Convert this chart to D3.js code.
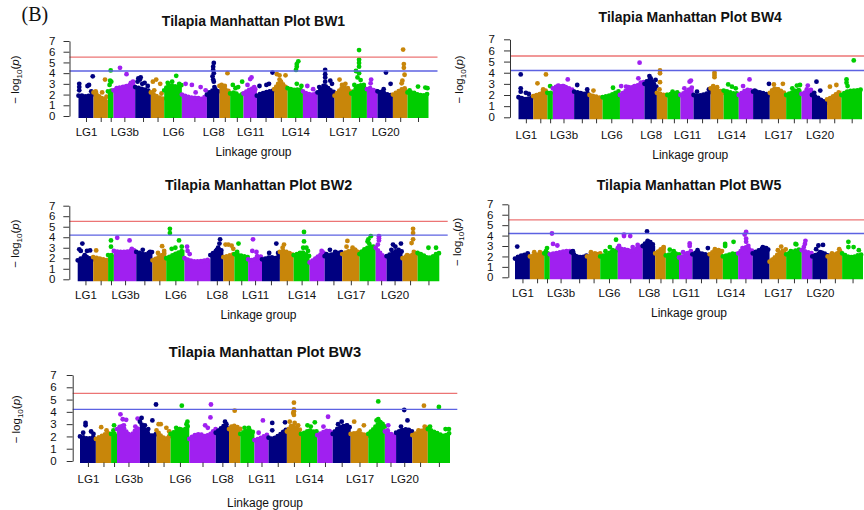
<!DOCTYPE html>
<html>
<head>
<meta charset="utf-8">
<script src="https://cdn.jsdelivr.net/npm/d3@7"></script>
<style>
  body { margin: 0; background: #fff; }
  svg { display: block; }
  text { font-family: "Liberation Sans", Arial, Helvetica, sans-serif; fill: #111; }
</style>
</head>
<body>
<svg id="fig" width="864" height="510"></svg>
<script>
// Tilapia linkage groups and their relative lengths (Mb)
const lgNames = ["LG1","LG2","LG3a","LG3b","LG4","LG5","LG6","LG7","LG8","LG9","LG10","LG11",
                 "LG12","LG13","LG14","LG15","LG16","LG17","LG18","LG19","LG20","LG22","LG23"];
const lgSizes = [33.0, 31.7, 12.3, 47.7, 34.5, 29.3, 38.9, 55.0, 27.7, 23.5, 29.3, 29.5,
                 38.1, 29.3, 33.9, 32.1, 37.4, 36.7, 34.5, 23.3, 33.9, 32.1, 46.2];
// labels that fit under the axis
const shownLabels = ["LG1","LG3b","LG6","LG8","LG11","LG14","LG17","LG20"];
const lgColors = ["#000080", "#c8860a", "#00cd00", "#a020f0"];
const yTicks = [0, 1, 2, 3, 4, 5, 6, 7];
const genomeWideLine = 5.5;
const suggestiveLine = 4.2;

// Upper edge of the dense SNP cloud per linkage group, -log10(p), evenly spaced along the LG
const bw1Bulk = [
  [1.9,1.9,1.8,1.9,2.0],[2.2,2.0,1.7,1.6,1.5],[2.3,2.4],[2.4,2.6,2.7,2.8,2.9,3.0],
  [2.7,2.6,2.5,2.4,2.3],[2.2,1.9,1.7,1.6],[2.4,2.9,2.8,2.7,2.9],[2.0,1.8,1.7,1.7,1.6,1.9],
  [2.0,2.3,2.5,2.2],[2.8,2.6,2.4,2.3],[2.1,2.2,1.9,2.1],[2.1,2.3,2.5,2.6,2.4],
  [1.9,2.1,2.2,2.3,2.4],[2.5,2.9,3.2,2.8,2.6],[2.6,2.5,2.4,2.5,2.3],[2.3,2.1,2.0,2.0,2.2],
  [2.2,2.5,2.8,2.4,2.2],[1.9,2.3,2.7,2.5,2.2],[2.1,2.4,2.9,2.8,2.4],[2.5,2.5,2.4,2.3],
  [2.3,2.2,2.0,1.9],[2.0,2.2,2.4,2.6,2.5],[2.2,2.2,2.0,1.9,2.1]
];
// Individual SNPs standing above the cloud: [LG, relative position, -log10(p)]
const bw1Peaks = [
  ["LG1",0.05,3.0],["LG1",0.05,2.7],["LG1",0.05,2.4],["LG1",0.6,2.8],["LG1",0.7,2.9],["LG1",0.85,2.3],["LG1",0.95,3.7],
  ["LG2",0.15,2.3],["LG2",0.6,2.2],["LG2",0.8,3.4],["LG2",0.9,1.8],
  ["LG3a",0.5,4.25],["LG3a",0.4,3.3],["LG3a",0.6,3.2],["LG3a",0.3,2.9],
  ["LG3b",0.3,4.5],["LG3b",0.6,3.9],["LG3b",0.8,3.1],["LG3b",0.9,3.2],["LG3b",0.15,2.6],
  ["LG4",0.15,3.2],["LG4",0.2,3.5],["LG4",0.3,3.4],["LG4",0.35,3.6],["LG4",0.45,3.0],["LG4",0.6,3.1],["LG4",0.8,2.8],
  ["LG5",0.15,3.2],["LG5",0.4,3.4],["LG5",0.25,2.4],["LG5",0.7,3.0],["LG5",0.8,2.1],
  ["LG6",0.68,3.75],["LG6",0.2,3.1],["LG6",0.45,3.2],["LG6",0.85,3.0],
  ["LG7",0.15,3.0],["LG7",0.4,2.9],["LG7",0.55,2.2],["LG7",0.75,2.7],["LG7",0.95,2.4],
  ["LG8",0.55,4.95],["LG8",0.5,4.6],["LG8",0.5,4.3],["LG8",0.55,4.0],["LG8",0.45,3.7],["LG8",0.5,3.4],["LG8",0.55,3.2],["LG8",0.6,2.7],
  ["LG9",0.75,4.0],["LG9",0.2,2.9],["LG9",0.5,2.8],
  ["LG10",0.2,2.9],["LG10",0.4,2.6],["LG10",0.6,2.7],["LG10",0.9,3.2],
  ["LG11",0.5,3.45],["LG11",0.6,3.6],["LG11",0.3,2.9],["LG11",0.8,2.7],
  ["LG12",0.15,2.8],["LG12",0.55,2.9],["LG12",0.7,3.0],["LG12",0.9,4.05],
  ["LG13",0.2,3.9],["LG13",0.4,3.8],["LG13",0.85,3.8],["LG13",0.4,3.4],["LG13",0.5,3.2],["LG13",0.3,3.0],
  ["LG14",0.7,5.1],["LG14",0.6,4.85],["LG14",0.6,4.6],["LG14",0.55,4.3],["LG14",0.6,3.0],["LG14",0.9,2.8],
  ["LG15",0.3,2.8],["LG15",0.7,2.5],
  ["LG16",0.45,4.3],["LG16",0.45,3.9],["LG16",0.45,3.6],["LG16",0.45,3.2],["LG16",0.35,2.8],["LG16",0.1,2.7],["LG16",0.75,3.3],["LG16",0.85,3.0],
  ["LG17",0.3,3.4],["LG17",0.45,2.9],["LG17",0.65,3.0],["LG17",0.8,2.6],
  ["LG18",0.5,6.15],["LG18",0.5,5.25],["LG18",0.5,4.95],["LG18",0.5,4.6],["LG18",0.3,4.2],["LG18",0.5,4.0],["LG18",0.4,3.6],["LG18",0.6,3.35],["LG18",0.2,2.9],["LG18",0.8,2.9],["LG18",0.3,2.6],
  ["LG19",0.4,3.4],["LG19",0.35,3.05],["LG19",0.3,2.6],
  ["LG20",0.55,4.05],["LG20",0.85,3.0],["LG20",0.4,2.5],
  ["LG22",0.7,6.2],["LG22",0.75,4.85],["LG22",0.75,4.5],["LG22",0.8,3.85],["LG22",0.65,3.3],["LG22",0.6,3.05],
  ["LG23",0.1,2.4],["LG23",0.5,2.75],["LG23",0.85,2.65],["LG23",0.95,2.6]
];

const bw4Bulk = [
  [1.8,1.7,1.6,1.7,1.8],[1.9,2.0,2.1,2.3,2.5],[2.2,2.2],[2.6,2.8,2.8,2.6,2.4],
  [2.3,2.2,2.1,2.2],[2.0,1.9,1.8,1.7],[1.8,1.9,2.0,2.2,2.4],[2.0,2.3,2.6,2.8,2.9,3.2],
  [3.0,3.3,3.4,3.0,2.7],[2.2,2.1,2.0,2.0],[2.0,2.1,2.2,2.3],[2.0,2.2,2.5,2.8],
  [2.0,1.9,2.0,2.1,2.3],[2.6,2.5,2.4,2.2],[2.4,2.3,2.2,2.1,2.2],[2.0,2.3,2.5,2.3],
  [2.3,2.3,2.2,2.1,2.0],[2.2,2.6,2.5,2.3,2.1],[2.0,2.2,2.4,2.5],[2.1,2.3,2.5],
  [2.0,1.8,1.5,1.3],[1.6,1.8,2.1,2.4],[2.0,2.3,2.4,2.4,2.5]
];
const bw4Peaks = [
  ["LG1",0.15,3.85],["LG1",0.15,2.6],["LG1",0.15,2.3],["LG1",0.5,2.2],["LG1",0.7,2.1],
  ["LG2",0.3,3.05],["LG2",0.9,3.85],["LG2",0.7,2.5],
  ["LG3a",0.5,2.8],
  ["LG3b",0.7,3.4],["LG3b",0.25,2.85],["LG3b",0.5,2.8],
  ["LG4",0.2,2.9],["LG4",0.85,2.5],
  ["LG5",0.3,2.4],
  ["LG6",0.6,2.65],
  ["LG7",0.05,2.8],["LG7",0.25,2.75],["LG7",0.35,2.7],["LG7",0.5,2.65],["LG7",0.8,4.9],["LG7",0.75,3.5],["LG7",0.85,3.1],
  ["LG8",0.4,3.7],["LG8",0.5,3.5],["LG8",0.9,3.35],
  ["LG9",0.3,4.2],["LG9",0.3,3.95],["LG9",0.3,3.15],["LG9",0.25,2.5],
  ["LG10",0.4,2.3],
  ["LG11",0.8,3.3],["LG11",0.7,3.2],["LG11",0.3,2.6],
  ["LG12",0.2,2.3],["LG12",0.9,2.5],
  ["LG13",0.3,4.0],["LG13",0.3,3.8],["LG13",0.3,3.6],["LG13",0.2,2.8],["LG13",0.5,2.7],
  ["LG14",0.3,2.95],["LG14",0.55,2.75],["LG14",0.8,2.6],
  ["LG15",0.75,3.4],["LG15",0.3,2.8],
  ["LG16",0.1,2.4],["LG16",0.95,3.0],
  ["LG17",0.25,2.95],["LG17",0.8,3.0],["LG17",0.5,2.5],
  ["LG18",0.4,2.6],["LG18",0.7,2.85],["LG18",0.9,2.9],
  ["LG19",0.6,2.85],["LG19",0.5,2.5],
  ["LG20",0.3,3.2],["LG20",0.55,2.4],["LG20",0.15,2.2],
  ["LG22",0.2,2.75],["LG22",0.65,2.9],
  ["LG23",0.6,5.1],["LG23",0.25,3.4],["LG23",0.25,3.1],["LG23",0.3,2.8]
];

const bw2Bulk = [
  [1.8,2.0,2.2,2.0,1.9],[2.1,2.0,1.9,1.8],[2.3,2.3],[2.7,2.6,2.6,2.7,2.8],
  [2.6,2.5,2.3,2.5,2.6],[1.8,2.0,2.3,2.6],[2.0,2.2,2.4,2.6,2.8],[2.0,1.8,1.7,1.7,1.8,1.9],
  [2.3,2.6,2.9,2.6],[2.1,2.2,2.3,2.4],[2.4,2.3,2.2,2.1],[1.9,1.8,2.0,2.2],
  [1.9,2.0,2.1,2.0,2.2],[2.6,2.7,2.5,2.3],[2.3,2.4,2.6,2.4,2.2],[1.6,1.9,2.3,2.6],
  [2.2,2.3,2.4,2.5,2.6],[2.4,2.6,2.7,2.8,2.5],[2.4,2.8,3.0,3.2,3.0],[3.0,2.6,2.2,2.0],
  [2.2,2.4,2.6,2.8,2.6],[2.0,2.2,2.3,2.4],[2.5,2.3,2.0,2.2,2.5]
];
const bw2Peaks = [
  ["LG1",0.3,3.4],["LG1",0.1,2.85],["LG1",0.2,2.7],["LG1",0.6,2.7],["LG1",0.8,2.75],["LG1",0.45,2.3],
  ["LG2",0.2,2.75],
  ["LG3a",0.5,3.7],["LG3a",0.5,3.1],
  ["LG3b",0.15,3.95],["LG3b",0.7,3.7],["LG3b",0.8,2.9],
  ["LG4",0.4,2.8],["LG4",0.85,2.6],
  ["LG5",0.7,3.15],["LG5",0.4,2.5],["LG5",0.85,2.7],
  ["LG6",0.2,4.8],["LG6",0.2,4.4],["LG6",0.3,2.9],["LG6",0.7,3.7],["LG6",0.85,3.1],["LG6",0.5,3.0],
  ["LG7",0.1,3.1],["LG7",0.12,2.7],["LG7",0.2,2.4],
  ["LG8",0.75,3.8],["LG8",0.7,3.4],["LG8",0.6,3.0],["LG8",0.5,2.8],
  ["LG9",0.2,3.3],["LG9",0.45,3.3],["LG9",0.75,3.2],["LG9",0.9,2.9],
  ["LG10",0.3,3.4],["LG10",0.2,2.6],
  ["LG11",0.35,3.8],["LG11",0.3,2.7],["LG11",0.6,2.6],["LG11",0.85,2.1],["LG11",0.65,2.2],
  ["LG12",0.8,3.4],["LG12",0.9,2.5],["LG12",0.4,2.5],
  ["LG13",0.3,3.3],["LG13",0.2,3.0],
  ["LG14",0.65,4.5],["LG14",0.65,3.6],["LG14",0.6,3.0],["LG14",0.8,3.0],["LG14",0.9,2.7],
  ["LG15",0.8,2.7],
  ["LG16",0.3,2.8],["LG16",0.1,2.4],["LG16",0.6,2.6],
  ["LG17",0.3,3.65],["LG17",0.25,3.1],["LG17",0.6,3.0],["LG17",0.75,2.8],
  ["LG18",0.7,4.1],["LG18",0.5,3.6],["LG18",0.55,3.8],["LG18",0.6,3.4],
  ["LG19",0.3,4.1],["LG19",0.3,3.9],["LG19",0.3,3.7],["LG19",0.2,3.3],
  ["LG20",0.4,3.3],["LG20",0.55,3.1],["LG20",0.9,3.4],["LG20",0.3,2.8],
  ["LG22",0.7,4.8],["LG22",0.7,4.4],["LG22",0.7,3.8],["LG22",0.6,3.45],["LG22",0.75,2.6],["LG22",0.3,2.3],
  ["LG23",0.5,3.0],["LG23",0.85,3.0],["LG23",0.85,2.4]
];

const bw5Bulk = [
  [1.8,2.0,2.1,2.2,2.2],[2.0,2.1,2.2,2.3],[2.3,2.3],[2.2,2.3,2.4,2.5,2.5],
  [2.4,2.0,1.9,2.1],[2.0,2.1,2.2,2.3],[2.0,2.1,2.3,2.5,2.6],[2.8,2.7,2.6,2.5,2.8,3.0],
  [3.0,3.3,3.5,3.2,3.0],[2.3,2.5,2.8,2.9],[2.1,2.2,2.3,2.2],[1.9,2.0,2.3,2.6],
  [2.2,2.4,2.3,2.2,2.1],[2.2,2.5,2.6,2.5],[2.0,2.1,2.2,2.3,2.1],[2.3,2.6,2.9,2.7,2.5],
  [2.3,2.5,2.7,2.8,2.6],[1.5,1.8,2.2,2.5,2.7],[2.2,2.4,2.6,2.7],[2.6,2.4,2.3],
  [2.0,2.2,2.4,2.1],[2.0,2.1,2.3,2.6],[2.3,2.0,1.9,2.1,2.2]
];
const bw5Peaks = [
  ["LG1",0.15,2.95],["LG1",0.85,2.3],
  ["LG2",0.3,2.4],["LG2",0.7,2.4],
  ["LG3a",0.5,2.8],["LG3a",0.3,2.5],
  ["LG3b",0.1,4.2],["LG3b",0.15,3.2],["LG3b",0.35,3.05],
  ["LG4",0.1,2.5],
  ["LG5",0.3,2.4],["LG5",0.6,2.3],
  ["LG6",0.9,3.6],["LG6",0.55,2.9],["LG6",0.3,2.5],["LG6",0.7,2.6],
  ["LG7",0.25,4.1],["LG7",0.25,3.95],["LG7",0.5,3.95],["LG7",0.05,3.0],["LG7",0.6,2.9],["LG7",0.8,3.1],
  ["LG8",0.35,4.4],["LG8",0.4,3.5],
  ["LG9",0.8,2.9],
  ["LG10",0.3,2.65],["LG10",0.6,2.5],
  ["LG11",0.8,3.25],["LG11",0.8,3.0],["LG11",0.3,2.4],["LG11",0.6,2.3],
  ["LG12",0.3,2.6],["LG12",0.9,2.8],["LG12",0.6,2.2],
  ["LG13",0.4,2.7],
  ["LG14",0.15,3.2],["LG14",0.15,3.0],["LG14",0.7,3.4],
  ["LG15",0.55,4.35],["LG15",0.45,4.1],["LG15",0.55,3.7],["LG15",0.55,3.4],["LG15",0.7,3.0],["LG15",0.3,2.8],
  ["LG16",0.6,2.9],["LG16",0.8,2.8],
  ["LG17",0.7,2.95],["LG17",0.5,2.6],
  ["LG18",0.6,3.2],["LG18",0.65,3.15],["LG18",0.3,2.5],
  ["LG19",0.35,3.5],["LG19",0.3,3.2],["LG19",0.2,2.9],
  ["LG20",0.4,3.05],["LG20",0.7,3.1],["LG20",0.25,2.7],["LG20",0.5,2.4],
  ["LG22",0.8,2.7],["LG22",0.3,2.3],
  ["LG23",0.3,3.4],["LG23",0.55,2.9],["LG23",0.3,2.9],["LG23",0.8,2.6]
];

const bw3Bulk = [
  [2.0,1.9,1.8,1.9,2.0],[1.8,2.0,2.2,2.3],[2.2,2.2],[2.6,2.9,2.4,2.0,2.5,2.8],
  [3.2,2.5,2.0,2.2],[2.5,2.0,1.8,2.1],[2.2,2.4,2.6,2.5,3.0],[1.8,2.1,2.2,2.0,2.2,2.6],
  [2.3,2.6,2.9,2.6],[2.6,2.9,2.8,2.6],[2.2,2.4,2.5,2.3],[1.7,1.8,2.0,2.2],
  [1.9,1.8,2.0,2.3,2.6],[2.4,2.9,2.7,2.5],[2.2,2.3,2.5,2.4,2.2],[2.1,2.3,2.5,2.3],
  [2.2,2.6,2.8,2.9,2.7],[2.2,2.3,2.2,2.0],[2.2,2.5,2.9,3.2,2.8],[2.4,2.2,2.0],
  [2.3,2.5,2.6,2.4],[2.1,2.3,2.5,2.7],[2.6,2.4,2.2,2.0,2.3]
];
const bw3Peaks = [
  ["LG1",0.35,3.1],["LG1",0.35,2.9],["LG1",0.2,2.3],["LG1",0.7,2.4],["LG1",0.85,2.2],
  ["LG2",0.35,2.75],["LG2",0.7,2.5],
  ["LG3a",0.5,2.9],["LG3a",0.4,2.5],
  ["LG3b",0.15,3.8],["LG3b",0.25,3.4],["LG3b",0.4,3.35],["LG3b",0.3,2.9],["LG3b",0.8,2.8],["LG3b",0.9,3.45],
  ["LG4",0.1,3.5],["LG4",0.3,2.9],["LG4",0.5,2.6],["LG4",0.75,3.3],["LG4",0.97,4.6],
  ["LG5",0.15,3.0],["LG5",0.3,3.0],["LG5",0.7,2.7],["LG5",0.9,2.4],
  ["LG6",0.6,4.5],["LG6",0.9,3.2],["LG6",0.85,3.0],["LG6",0.3,2.7],["LG6",0.5,2.6],
  ["LG7",0.82,4.6],["LG7",0.8,3.55],["LG7",0.6,2.9],["LG7",0.7,2.7],
  ["LG8",0.7,3.2],["LG8",0.8,3.0],
  ["LG9",0.5,4.1],
  ["LG10",0.3,2.7],["LG10",0.6,2.7],
  ["LG11",0.6,3.3],["LG11",0.3,2.3],
  ["LG12",0.2,3.1],["LG12",0.2,2.5],["LG12",0.9,3.15],["LG12",0.5,2.0],
  ["LG13",0.5,4.75],["LG13",0.5,4.2],["LG13",0.5,4.05],["LG13",0.45,3.9],["LG13",0.5,3.75],["LG13",0.55,3.1],["LG13",0.2,3.2],["LG13",0.8,2.9],
  ["LG14",0.85,3.15],["LG14",0.4,2.9],["LG14",0.6,2.8],["LG14",0.95,2.4],
  ["LG15",0.7,3.6],["LG15",0.4,2.8],
  ["LG16",0.3,3.0],["LG16",0.5,3.2],["LG16",0.8,2.9],
  ["LG17",0.2,3.2],["LG17",0.75,2.9],["LG17",0.5,2.5],
  ["LG18",0.6,4.85],["LG18",0.6,3.4],["LG18",0.5,3.3],["LG18",0.7,2.9],
  ["LG19",0.3,2.9],["LG19",0.25,2.5],
  ["LG20",0.5,4.15],["LG20",0.7,3.3],["LG20",0.3,2.8],
  ["LG22",0.75,4.5],["LG22",0.8,2.8],["LG22",0.4,2.5],
  ["LG23",0.5,4.4],["LG23",0.1,2.8],["LG23",0.8,2.6],["LG23",0.95,2.6]
];

// ---- panel layout (pixels) ----
const panels = [
  { title: "Tilapia Manhattan Plot BW1", bulk: bw1Bulk, peaks: bw1Peaks,
    axisX: 69.5, x0: 78.5, x1: 428.5, y0: 116, y7: 41, titleY: 25.5, titleSize: 14,
    tickLabelY: 135.8, xlabY: 155.8, ylabX: 15, numGap: 14 },
  { title: "Tilapia Manhattan Plot BW4", bulk: bw4Bulk, peaks: bw4Peaks,
    axisX: 510, x0: 518.5, x1: 862, y0: 117.3, y7: 39.3, titleY: 22.3, titleSize: 14,
    tickLabelY: 139, xlabY: 159, ylabX: 459, numGap: 15 },
  { title: "Tilapia Manhattan Plot BW2", bulk: bw2Bulk, peaks: bw2Peaks,
    axisX: 69.3, x0: 77.7, x1: 439.3, y0: 279.3, y7: 205.7, titleY: 190, titleSize: 14.3,
    tickLabelY: 299, xlabY: 319, ylabX: 15, numGap: 14 },
  { title: "Tilapia Manhattan Plot BW5", bulk: bw5Bulk, peaks: bw5Peaks,
    axisX: 508.3, x0: 515, x1: 863, y0: 277.3, y7: 204.3, titleY: 190, titleSize: 14.1,
    tickLabelY: 296.8, xlabY: 316.8, ylabX: 457, numGap: 15 },
  { title: "Tilapia Manhattan Plot BW3", bulk: bw3Bulk, peaks: bw3Peaks,
    axisX: 72.7, x0: 80, x1: 450, y0: 461, y7: 375, titleY: 357, titleSize: 14.7,
    tickLabelY: 483.4, xlabY: 506.8, ylabX: 16, numGap: 16 }
];

const svg = d3.select("#fig");
const totalSize = d3.sum(lgSizes);
const lgStart = lgSizes.map((s, i) => d3.sum(lgSizes.slice(0, i)));
const lgCenter = lgSizes.map((s, i) => lgStart[i] + s / 2);
const fs = 11.5;

// panel letter
svg.append("text")
  .attr("x", 21.5).attr("y", 21)
  .style("font-family", "'Liberation Serif', 'Times New Roman', serif")
  .style("font-size", "20px")
  .text("(B)");

function drawPanel(p) {
  const g = svg.append("g");
  const x = d3.scaleLinear().domain([0, totalSize]).range([p.x0, p.x1]);
  const y = d3.scaleLinear().domain([0, 7]).range([p.y0, p.y7]);
  const lineEnd = Math.min(864, p.x1 + (p.x0 - p.axisX));

  // SNP clouds, one linkage group at a time
  lgNames.forEach((name, i) => {
    const col = lgColors[i % 4];
    const env = p.bulk[i];
    const pts = env.map((v, k) => [lgStart[i] + lgSizes[i] * k / (env.length - 1), v]);
    const lg = g.append("g");
    lg.append("path")
      .attr("d", d3.area().x(d => x(d[0])).y0(y(0) + 2).y1(d => y(d[1]))(pts))
      .attr("fill", col);
    // dotted rim so the cloud edge reads as individual markers
    lg.append("path")
      .attr("d", d3.line().x(d => x(d[0])).y(d => y(d[1]))(pts))
      .attr("fill", "none").attr("stroke", col)
      .attr("stroke-width", 4.8).attr("stroke-linecap", "round")
      .attr("stroke-dasharray", "0 3.4");
    lg.selectAll("circle")
      .data(p.peaks.filter(d => d[0] === name))
      .join("circle")
      .attr("cx", d => x(lgStart[i] + d[1] * lgSizes[i]))
      .attr("cy", d => y(d[2]))
      .attr("r", 2.4)
      .attr("fill", col);
  });

  // significance thresholds
  [[genomeWideLine, "#ec7474"], [suggestiveLine, "#5c62e2"]].forEach(([v, c]) => {
    g.append("line")
      .attr("x1", p.axisX).attr("x2", lineEnd)
      .attr("y1", y(v)).attr("y2", y(v))
      .attr("stroke", c).attr("stroke-width", 1.3);
  });

  // y axis
  const ya = g.append("g")
    .attr("transform", `translate(${p.axisX},0)`)
    .call(d3.axisLeft(y).tickValues(yTicks).tickFormat(d3.format("d"))
      .tickSize(6).tickSizeOuter(0).tickPadding(p.numGap - 6));
  ya.selectAll("path, line").attr("stroke", "#333").attr("stroke-width", 1);
  ya.selectAll("text").style("font-size", fs + "px")
    .style("font-family", "'Liberation Sans', Arial, sans-serif").attr("fill", "#111");

  // x axis (linkage group ticks)
  const axisY = p.y0 + 1.5, tick = 4.5;
  const pad = p.tickLabelY - axisY - tick - 0.71 * fs;
  const xa = g.append("g")
    .attr("transform", `translate(0,${axisY})`)
    .call(d3.axisBottom(x).tickValues(lgCenter)
      .tickFormat((d, i) => shownLabels.includes(lgNames[i]) ? lgNames[i] : "")
      .tickSize(tick).tickSizeOuter(0).tickPadding(pad));
  xa.select(".domain").remove();
  xa.selectAll("line").attr("stroke", "#333").attr("stroke-width", 1);
  xa.selectAll("text").style("font-size", fs + "px")
    .style("font-family", "'Liberation Sans', Arial, sans-serif").attr("fill", "#111");

  // title
  g.append("text")
    .attr("x", (p.x0 + p.x1) / 2).attr("y", p.titleY)
    .attr("text-anchor", "middle")
    .style("font-weight", "bold").style("font-size", p.titleSize + "px")
    .text(p.title);

  // x label
  g.append("text")
    .attr("x", (p.x0 + p.x1) / 2).attr("y", p.xlabY)
    .attr("text-anchor", "middle").style("font-size", "12px")
    .text("Linkage group");

  // y label: -log10(p)
  const yl = g.append("text")
    .attr("transform", `translate(${p.ylabX + 0.35 * fs},${y(3.4)}) rotate(-90)`)
    .attr("text-anchor", "middle").style("font-size", fs + "px");
  yl.append("tspan").text("\u2212 log");
  yl.append("tspan").attr("dy", 2.5).style("font-size", "8px").text("10");
  yl.append("tspan").attr("dy", -2.5).text("(");
  yl.append("tspan").style("font-style", "italic").text("p");
  yl.append("tspan").text(")");
}

panels.forEach(drawPanel);
</script>
</body>
</html>
